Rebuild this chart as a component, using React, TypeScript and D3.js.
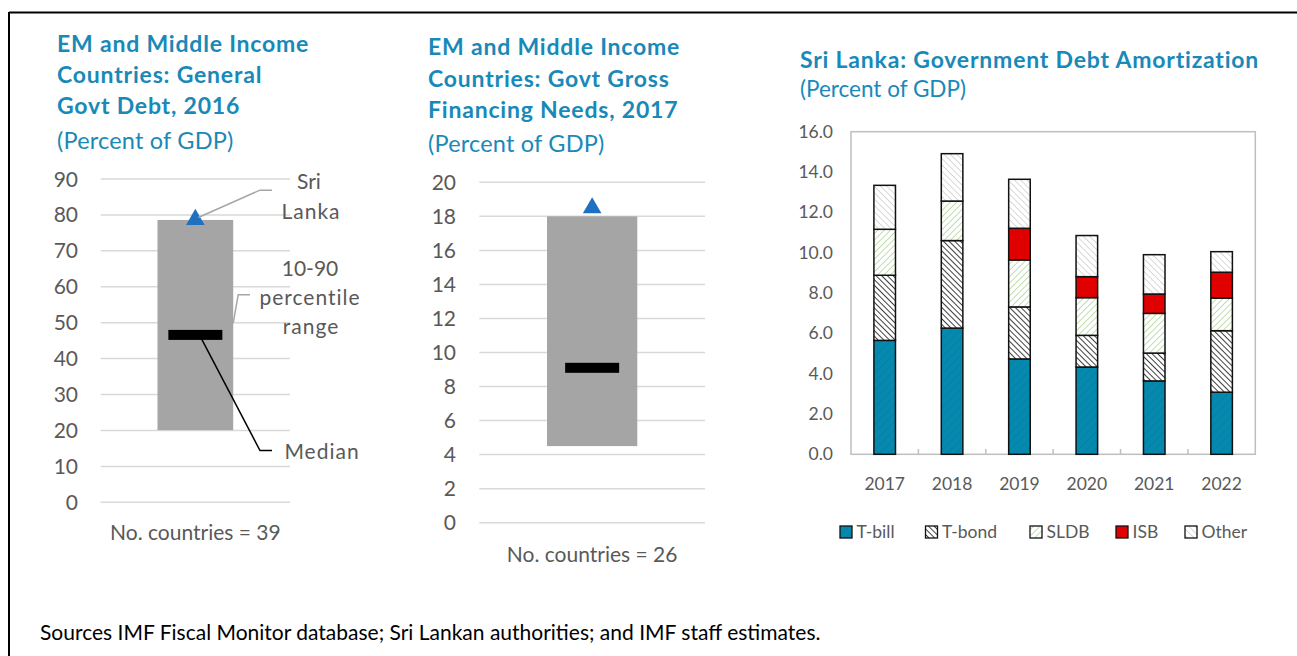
import React from "react";
import * as d3 from "d3";

// ---------- Data ----------
// Panel 1: EM & MI general govt debt 2016 (% GDP)
const debtRange = [20.1, 78.6]; // 10th, 90th percentile
const debtMedian = 46.6;
const debtSriLanka = 79.0;
const debtTicks = [0, 10, 20, 30, 40, 50, 60, 70, 80, 90];
const debtCountries = 39;

// Panel 2: EM & MI govt gross financing needs 2017 (% GDP)
const gfnRange = [4.5, 18.0];
const gfnMedian = 9.1;
const gfnSriLanka = 18.55;
const gfnTicks = [0, 2, 4, 6, 8, 10, 12, 14, 16, 18, 20];
const gfnCountries = 26;

// Panel 3: Sri Lanka government debt amortization (% GDP)
const years = ["2017", "2018", "2019", "2020", "2021", "2022"];
const seriesNames = ["T-bill", "T-bond", "SLDB", "ISB", "Other"];
const tBill = [5.65, 6.26, 4.73, 4.33, 3.64, 3.08];
const tBond = [3.23, 4.34, 2.58, 1.57, 1.38, 3.05];
const sldb = [2.28, 1.96, 2.33, 1.87, 1.97, 1.62];
const isb = [0, 0, 1.57, 1.04, 0.96, 1.28];
const other = [2.18, 2.35, 2.43, 2.04, 1.95, 1.02];
const amortTicks = [0, 2, 4, 6, 8, 10, 12, 14, 16];

const FONT = "Lato, 'Open Sans', sans-serif";
const TITLE = "#1889B8";
const GRAY_TXT = "#595959";
const GRID = "#D9D9D9";

const fills = ["url(#pTbill)", "url(#pTbond)", "url(#pSldb)", "#E00000", "url(#pOther)"];

type RangePanelProps = {
  range: number[];
  median: number;
  sl: number;
  ticks: number[];
  yRange: [number, number];
  xRange: [number, number];
  labelRight: number;
  countries: number;
  countriesY: number;
};

function RangePanel(p: RangePanelProps) {
  const y = d3.scaleLinear().domain([0, d3.max(p.ticks) as number]).range(p.yRange);
  const x = d3.scaleBand().domain(["EM"]).range(p.xRange).paddingInner(0).paddingOuter(0.75);
  const bx = x("EM") as number;
  const bw = x.bandwidth();
  const cx = bx + bw / 2;
  const tri = d3.symbol().type(d3.symbolTriangle).size(150)();
  return (
    <g>
      {p.ticks.map((t) => (
        <g key={t}>
          <line x1={p.xRange[0]} x2={p.xRange[1]} y1={y(t)} y2={y(t)} stroke={GRID} strokeWidth={1.5} />
          <text x={p.labelRight} y={y(t) + 7.5} textAnchor="end" fontSize={21} fill={GRAY_TXT} fontFamily={FONT}>
            {t}
          </text>
        </g>
      ))}
      <rect x={bx} y={y(p.range[1])} width={bw} height={y(p.range[0]) - y(p.range[1])} fill="#A5A5A5" />
      <rect x={cx - 27} y={y(p.median) - 5} width={54} height={10} fill="#000" />
      <path d={tri as string} transform={`translate(${cx},${y(p.sl) + 1})`} fill="#1F70C1" />
      <text x={(p.xRange[0] + p.xRange[1]) / 2} y={p.countriesY} textAnchor="middle" fontSize={21} fill={GRAY_TXT} fontFamily={FONT}>
        {`No. countries = ${p.countries}`}
      </text>
    </g>
  );
}

export default function App() {
  // Panel 1 scales for annotation leaders
  const y1 = d3.scaleLinear().domain([0, 90]).range([502.3, 179]);
  const x1 = d3.scaleBand().domain(["EM"]).range([100.7, 290]).paddingInner(0).paddingOuter(0.75);
  const c1 = (x1("EM") as number) + x1.bandwidth() / 2;
  const r1 = (x1("EM") as number) + x1.bandwidth();

  // Panel 3 scales
  const y3 = d3.scaleLinear().domain([0, 16]).range([454.3, 131.7]);
  const x3 = d3.scaleBand().domain(years).range([851, 1255.3]).paddingInner(0.68).paddingOuter(0.34);
  const table = years.map((yr, i) => ({
    year: yr,
    "T-bill": tBill[i],
    "T-bond": tBond[i],
    SLDB: sldb[i],
    ISB: isb[i],
    Other: other[i],
  }));
  const stacked = d3.stack<any>().keys(seriesNames)(table);

  const legendX = [840, 925.5, 1030, 1116, 1185];

  const titleProps = { fontSize: 23, fontWeight: "bold" as const, letterSpacing: 0.8 };
  const subProps = { fontSize: 23.5, letterSpacing: 0.2 };

  return (
    <div style={{ position: "absolute", left: 0, top: 0 }}>
      <svg width={1297} height={656} style={{ display: "block", background: "#fff" }}>
        <defs>
          <pattern id="pTbill" patternUnits="userSpaceOnUse" width={6} height={6} patternTransform="rotate(45)">
            <rect width={6} height={6} fill="#0589AF" />
            <line x1={0} y1={0} x2={0} y2={6} stroke="#067B9E" strokeWidth={1.2} />
          </pattern>
          <pattern id="pTbond" patternUnits="userSpaceOnUse" width={4} height={4} patternTransform="rotate(-45)">
            <rect width={4} height={4} fill="#fff" />
            <line x1={0} y1={0} x2={0} y2={4} stroke="#2A2A2A" strokeWidth={1.8} />
          </pattern>
          <pattern id="pSldb" patternUnits="userSpaceOnUse" width={4.5} height={4.5} patternTransform="rotate(45)">
            <rect width={4.5} height={4.5} fill="#fff" />
            <line x1={0} y1={0} x2={0} y2={4.5} stroke="#A9D08E" strokeWidth={1.4} />
          </pattern>
          <pattern id="pOther" patternUnits="userSpaceOnUse" width={4.5} height={4.5} patternTransform="rotate(-45)">
            <rect width={4.5} height={4.5} fill="#fff" />
            <line x1={0} y1={0} x2={0} y2={4.5} stroke="#C8C8C8" strokeWidth={1.4} />
          </pattern>
        </defs>

        {/* Outer frame */}
        <line x1={9} x2={1297} y1={12.5} y2={12.5} stroke="#000" strokeWidth={2} />
        <line x1={9} x2={9} y1={12} y2={656} stroke="#000" strokeWidth={2} />

        {/* ---------- Panel 1 ---------- */}
        <g fontFamily={FONT} fill={TITLE}>
          <text x={57} y={52} {...titleProps}>EM and Middle Income</text>
          <text x={57} y={83} {...titleProps}>Countries: General</text>
          <text x={57} y={114} {...titleProps}>Govt Debt, 2016</text>
          <text x={57} y={149} {...subProps}>(Percent of GDP)</text>
        </g>
        <RangePanel
          range={debtRange}
          median={debtMedian}
          sl={debtSriLanka}
          ticks={debtTicks}
          yRange={[502.3, 179]}
          xRange={[100.7, 290]}
          labelRight={78}
          countries={debtCountries}
          countriesY={540}
        />
        {/* annotations */}
        <polyline
          points={`${c1 + 3},${y1(debtSriLanka) - 1} ${260},${y1(86.9)} ${272},${y1(86.9)}`}
          fill="none"
          stroke="#A6A6A6"
          strokeWidth={1.5}
        />
        <polyline
          points={`${r1},${y1(49.9)} ${r1 + 5},${y1(57.8)} ${250},${y1(57.8)}`}
          fill="none"
          stroke="#A6A6A6"
          strokeWidth={1.5}
        />
        <polyline
          points={`${c1 + 2},${y1(debtMedian) - 4} ${260},${y1(14.4)} ${272},${y1(14.4)}`}
          fill="none"
          stroke="#000"
          strokeWidth={1.5}
        />
        <g fontFamily={FONT} fill={GRAY_TXT} fontSize={21} textAnchor="middle">
          <text x={309} y={189}>Sri</text>
          <text x={311} y={219} letterSpacing={1}>Lanka</text>
          <text x={310} y={276}>10-90</text>
          <text x={310} y={305} letterSpacing={1}>percentile</text>
          <text x={311} y={334} letterSpacing={1}>range</text>
          <text x={322} y={459} letterSpacing={1}>Median</text>
        </g>

        {/* ---------- Panel 2 ---------- */}
        <g fontFamily={FONT} fill={TITLE}>
          <text x={428} y={55} {...titleProps}>EM and Middle Income</text>
          <text x={428} y={87} {...titleProps}>Countries: Govt Gross</text>
          <text x={428} y={118} {...titleProps}>Financing  Needs, 2017</text>
          <text x={428} y={152} {...subProps}>(Percent of GDP)</text>
        </g>
        <RangePanel
          range={gfnRange}
          median={gfnMedian}
          sl={gfnSriLanka}
          ticks={gfnTicks}
          yRange={[522.7, 182.3]}
          xRange={[479.3, 705]}
          labelRight={456}
          countries={gfnCountries}
          countriesY={562}
        />

        {/* ---------- Panel 3 ---------- */}
        <g fontFamily={FONT} fill={TITLE}>
          <text x={800} y={68} {...titleProps}>Sri Lanka: Government Debt Amortization</text>
          <text x={800} y={97} fontSize={22.5}>(Percent of GDP)</text>
        </g>
        {amortTicks.map((t) => (
          <text key={t} x={833} y={y3(t) + 6} textAnchor="end" fontSize={17.5} fill={GRAY_TXT} fontFamily={FONT}>
            {d3.format(".1f")(t)}
          </text>
        ))}
        <rect x={851} y={131.7} width={404.3} height={454.3 - 131.7} fill="none" stroke="#BFBFBF" strokeWidth={1.5} />
        {years.slice(1).map((yr) => {
          const xx = (x3(yr) as number) - (x3.step() * 0.68) / 2;
          return <line key={yr} x1={xx} x2={xx} y1={454.3} y2={449} stroke="#BFBFBF" strokeWidth={1.5} />;
        })}
        {stacked.map((s, si) => (
          <g key={seriesNames[si]}>
            {s.map((d, i) =>
              d[1] - d[0] > 0 ? (
                <rect
                  key={i}
                  x={x3(years[i]) as number}
                  y={y3(d[1])}
                  width={x3.bandwidth()}
                  height={y3(d[0]) - y3(d[1])}
                  fill={fills[si]}
                  stroke="#111"
                  strokeWidth={1.5}
                />
              ) : null
            )}
          </g>
        ))}
        {years.map((yr) => (
          <text
            key={yr}
            x={(x3(yr) as number) + x3.bandwidth() / 2}
            y={490}
            textAnchor="middle"
            fontSize={17.5}
            fill={GRAY_TXT}
            fontFamily={FONT}
          >
            {yr}
          </text>
        ))}
        {seriesNames.map((n, i) => (
          <g key={n}>
            <rect x={legendX[i]} y={526} width={12} height={12} fill={fills[i]} stroke="#111" strokeWidth={1.3} />
            <text x={legendX[i] + 16.5} y={538} fontSize={17.5} fill={GRAY_TXT} fontFamily={FONT}>
              {n}
            </text>
          </g>
        ))}

        {/* Source */}
        <text x={40} y={640} fontSize={21} fill="#000" fontFamily={FONT}>
          Sources IMF Fiscal Monitor database; Sri Lankan authorities; and IMF staff estimates.
        </text>
      </svg>
    </div>
  );
}
